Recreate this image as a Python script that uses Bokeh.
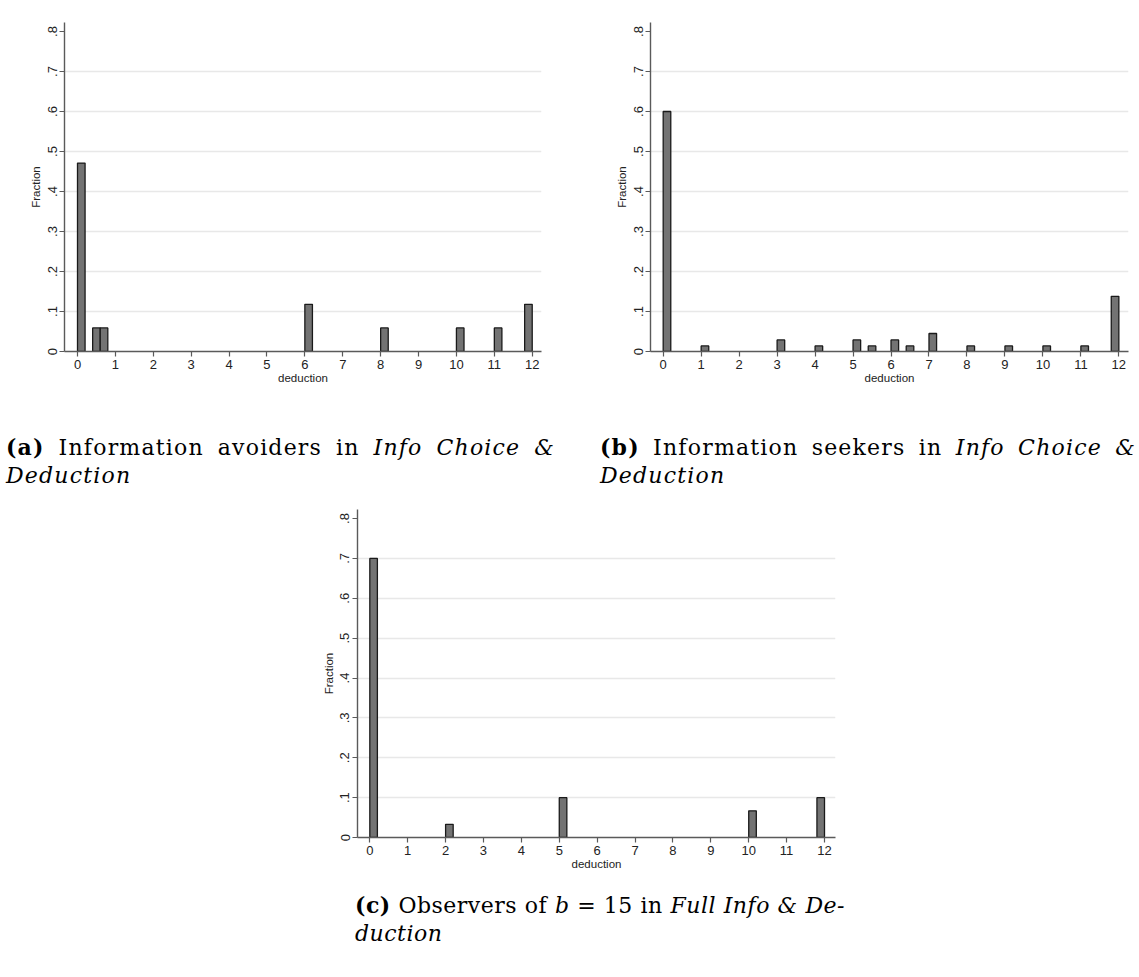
from bokeh.plotting import figure
from bokeh.models import FixedTicker, CustomJSTickFormatter, Range1d, Div, Spacer, ColumnDataSource
from bokeh.layouts import row, column
from bokeh.embed import file_html
from bokeh.resources import INLINE

# ---------------- data ----------------
BIN_WIDTH = 0.2
x_ticks = list(range(0, 13))
y_ticks = [0, 0.1, 0.2, 0.3, 0.4, 0.5, 0.6, 0.7, 0.8]
grid_ticks = [0.1, 0.2, 0.3, 0.4, 0.5, 0.6, 0.7]

# (a) Information avoiders
a_left = [0, 0.4, 0.6, 6, 8, 10, 11, 11.8]
a_frac = [0.471, 0.059, 0.059, 0.118, 0.059, 0.059, 0.059, 0.118]

# (b) Information seekers
b_left = [0, 1, 3, 4, 5, 5.4, 6, 6.4, 7, 8, 9, 10, 11, 11.8]
b_frac = [0.6, 0.014, 0.029, 0.014, 0.029, 0.014, 0.029, 0.014, 0.045, 0.014, 0.014, 0.014, 0.014, 0.138]

# (c) Observers of b = 15
c_left = [0, 2, 5, 10, 11.8]
c_frac = [0.7, 0.033, 0.1, 0.067, 0.1]

x_label = "deduction"
y_label = "Fraction"

cap_a = ['<b>(a)</b> Information avoiders in <i>Info Choice &amp;</i>', '<i>Deduction</i>']
cap_b = ['<b>(b)</b> Information seekers in <i>Info Choice &amp;</i>', '<i>Deduction</i>']
cap_c = ['<b>(c)</b> Observers of <i>b</i> = 15 in <i>Full Info &amp; De-</i>', '<i>duction</i>']

SANS = "Liberation Sans"
SERIF = "DejaVu Serif"


def make_panel(left, frac, x_start, x_end, y_end, width, height, bl, br, bt, bb):
    src = ColumnDataSource(dict(left=left, right=[l + BIN_WIDTH for l in left],
                                top=frac, bottom=[0] * len(left)))
    p = figure(width=width, height=height, output_backend="svg", toolbar_location=None,
               x_range=Range1d(x_start, x_end), y_range=Range1d(0, y_end),
               min_border_left=bl, min_border_right=br, min_border_top=bt, min_border_bottom=bb)
    p.quad(left="left", right="right", top="top", bottom="bottom", source=src,
           fill_color="#737373", line_color="#1a1a1a", line_width=1.3)
    p.outline_line_color = None
    p.background_fill_color = "white"
    p.border_fill_color = "white"
    p.xgrid.visible = False
    p.ygrid.ticker = FixedTicker(ticks=grid_ticks)
    p.ygrid.grid_line_color = "#e8e8e8"
    p.ygrid.grid_line_width = 1.5

    xa = p.xaxis[0]
    xa.ticker = FixedTicker(ticks=x_ticks)
    xa.axis_label = x_label
    xa.axis_label_text_font = SANS
    xa.axis_label_text_font_size = "11.5px"
    xa.axis_label_text_font_style = "normal"
    xa.axis_label_text_color = "#222222"
    xa.axis_label_standoff = 0
    xa.major_label_text_font = SANS
    xa.major_label_text_font_size = "13px"
    xa.major_label_text_color = "#222222"
    xa.major_label_standoff = 3
    xa.axis_line_color = "#5a5a5a"
    xa.axis_line_width = 1.4
    xa.major_tick_line_color = "#5a5a5a"
    xa.major_tick_line_width = 1.2
    xa.major_tick_out = 5
    xa.major_tick_in = 0
    xa.minor_tick_line_color = None

    ya = p.yaxis[0]
    ya.ticker = FixedTicker(ticks=y_ticks)
    ya.formatter = CustomJSTickFormatter(code="""
        if (Math.abs(tick) < 1e-9) return "0";
        return tick.toFixed(1).replace(/^0/, "");
    """)
    ya.major_label_orientation = "vertical"
    ya.axis_label = y_label
    ya.axis_label_text_font = SANS
    ya.axis_label_text_font_size = "11.5px"
    ya.axis_label_text_font_style = "normal"
    ya.axis_label_text_color = "#222222"
    ya.axis_label_standoff = 3
    ya.major_label_text_font = SANS
    ya.major_label_text_font_size = "13px"
    ya.major_label_text_color = "#222222"
    ya.major_label_standoff = 3
    ya.axis_line_color = "#5a5a5a"
    ya.axis_line_width = 1.4
    ya.major_tick_line_color = "#5a5a5a"
    ya.major_tick_line_width = 1.2
    ya.major_tick_out = 5
    ya.major_tick_in = 0
    ya.minor_tick_line_color = None
    return p


pa = make_panel(a_left, a_frac, -0.343, 12.245, 0.8225, 570, 410, 64, 29, 22, 59)
pb = make_panel(b_left, b_frac, -0.334, 12.254, 0.8225, 569, 410, 80, 11, 22, 59)
pc = make_panel(c_left, c_frac, -0.325, 12.29, 0.8226, 560, 390, 57, 25, 14, 48)


def caption(lines, width, height, pad_left, pad_top, line_width, spacing):
    first = ('<div style="width:%dpx; text-align:justify; text-align-last:justify;">%s</div>'
             % (line_width, lines[0]))
    second = '<div>%s</div>' % lines[1]
    inner = ('<div style="font-family:\'%s\', serif; font-size:22px; line-height:28px; '
             'letter-spacing:%.1fpx; color:#000; white-space:nowrap; '
             'padding-left:%dpx; padding-top:%dpx;">%s%s</div>'
             % (SERIF, spacing, pad_left, pad_top, first, second))
    return Div(text=inner, width=width, height=height, margin=(0, 0, 0, 0),
               styles={"overflow": "hidden"})


da = caption(cap_a, 570, 85, 6, 23, 549, 1.2)
db = caption(cap_b, 569, 85, 30, 23, 536, 1.2)
dc = caption(cap_c, 789, 92, 55, 6, 490, 0.5)

layout = column(
    row(pa, pb, spacing=0),
    row(da, db, spacing=0),
    row(Spacer(width=300, height=390, margin=(0, 0, 0, 0)), pc,
        Spacer(width=279, height=390, margin=(0, 0, 0, 0)), spacing=0),
    row(Spacer(width=300, height=92, margin=(0, 0, 0, 0)), dc, spacing=0),
    spacing=0,
)

open("out.html", "w").write(file_html(layout, INLINE))
